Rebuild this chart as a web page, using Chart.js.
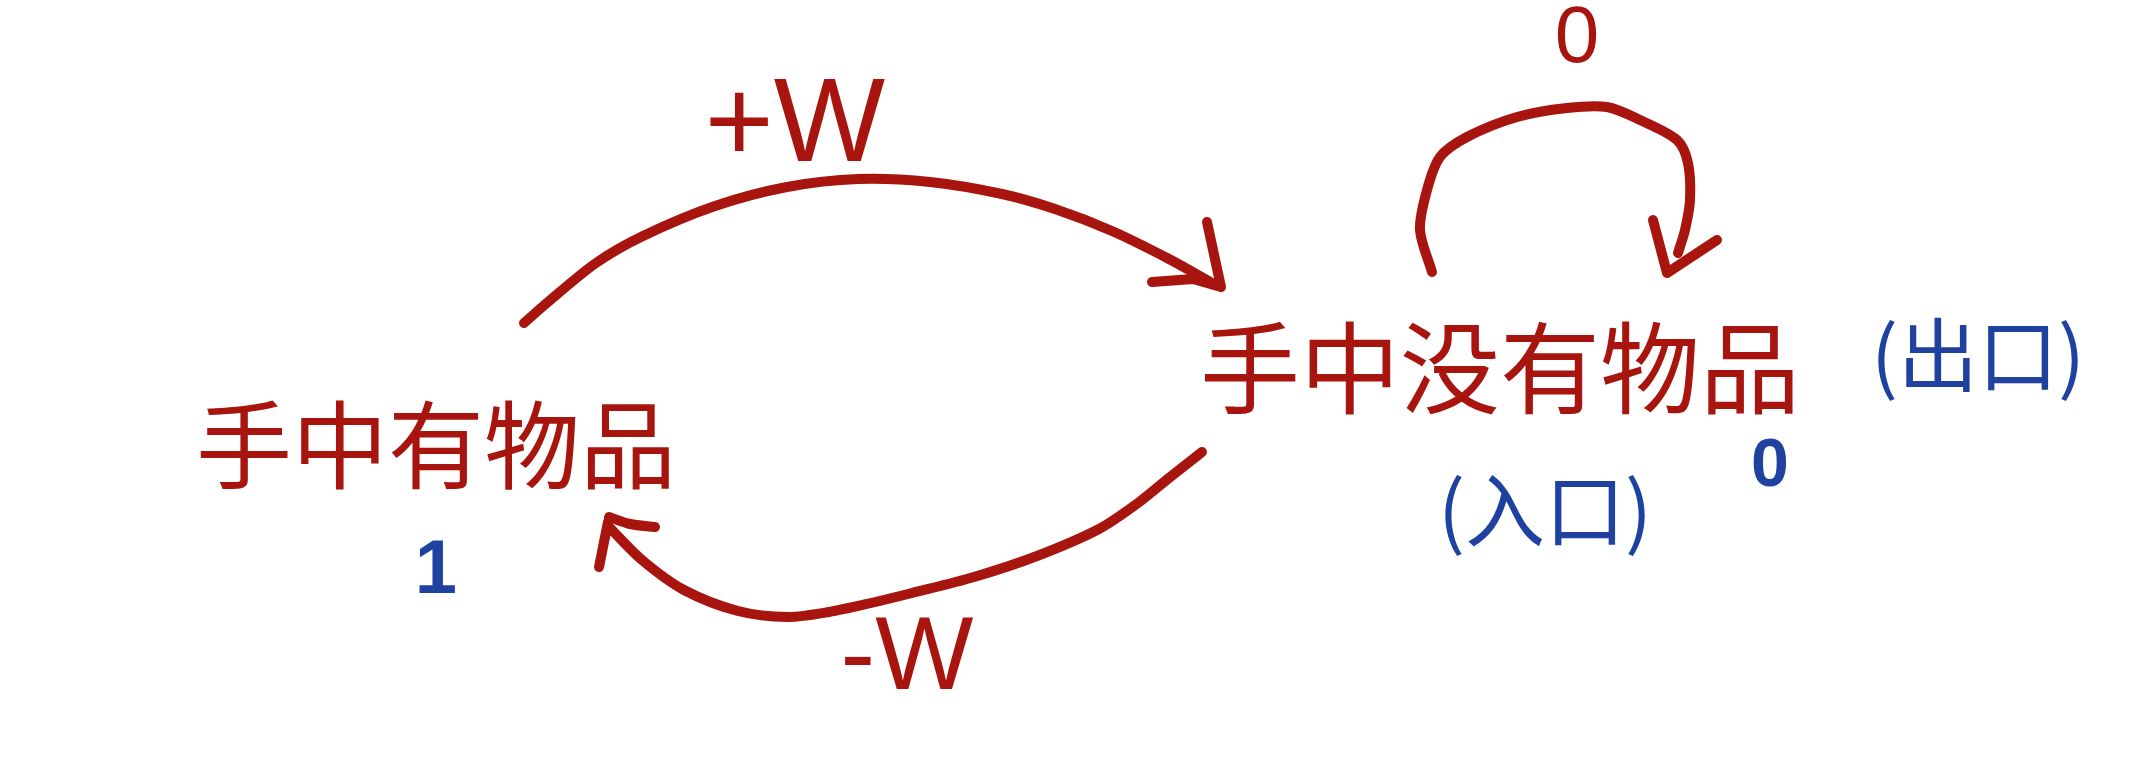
<!DOCTYPE html>
<html>
<head>
<meta charset="utf-8">
<script src="https://cdn.jsdelivr.net/npm/chart.js@4/dist/chart.umd.min.js"></script>
<style>
    html, body { margin: 0; padding: 0; background: #fff; }
    #wrap { width: 2138px; height: 762px; position: relative; }
</style>
</head>
<body>
<div id="wrap"><canvas id="diagram"></canvas></div>
<script>
// Curves of the state diagram, in picture coordinates (x right, y down)
const arcTop = [
    { x: 524, y: 323 }, { x: 548, y: 302 }, { x: 596, y: 263 }, { x: 643, y: 236 },
    { x: 715, y: 206 }, { x: 787, y: 187 }, { x: 858, y: 179 }, { x: 930, y: 182 },
    { x: 1002, y: 194 }, { x: 1055, y: 209 }, { x: 1112, y: 231 }, { x: 1169, y: 259 },
    { x: 1212, y: 283 }
];
const arcTopHead = [ { x: 1207, y: 222 }, { x: 1221, y: 287 }, { x: 1193, y: 279 }, { x: 1152, y: 282 } ];

const arcBottom = [
    { x: 1202, y: 452 }, { x: 1169, y: 478 }, { x: 1138, y: 503 }, { x: 1099, y: 529 },
    { x: 1037, y: 556 }, { x: 974, y: 577 }, { x: 912, y: 593 }, { x: 871, y: 603 },
    { x: 829, y: 612 }, { x: 788, y: 617 }, { x: 738, y: 611 }, { x: 684, y: 590 },
    { x: 642, y: 560 }, { x: 610, y: 528 }
];
const arcBottomHead = [ { x: 599, y: 567 }, { x: 608, y: 522 } ];
const arcBottomHead2 = [ { x: 609, y: 517 }, { x: 630, y: 524 }, { x: 655, y: 527 } ];

const loop = [
    { x: 1432, y: 272 }, { x: 1420, y: 230 }, { x: 1427, y: 190 }, { x: 1440, y: 157 },
    { x: 1467, y: 137 }, { x: 1517, y: 117 }, { x: 1567, y: 108 }, { x: 1607, y: 107 },
    { x: 1640, y: 120 }, { x: 1677, y: 140 }, { x: 1688, y: 163 }, { x: 1690, y: 200 },
    { x: 1685, y: 230 }, { x: 1678, y: 253 }
];
const loopHead = [ { x: 1653, y: 220 }, { x: 1667, y: 273 }, { x: 1717, y: 240 } ];

// Texts and where they sit
const redLabels = ['+W', '-W', '0', '手中有物品', '手中没有物品'];
const redAt = [ { x: 795, y: 128 }, { x: 907, y: 660 }, { x: 1577, y: 40 }, { x: 436, y: 445 }, { x: 1500, y: 368 } ];
const blueLabels = ['1', '0', '(出口)', '(入口)'];
const blueAt = [ { x: 436, y: 572 }, { x: 1770, y: 467 }, { x: 1978, y: 355 }, { x: 1545, y: 510 } ];

const RED = '#a8140e';
const BLUE = '#1f42a0';

function stroke(points, smooth) {
    return {
        data: points,
        showLine: true,
        borderColor: RED,
        borderWidth: 10,
        borderCapStyle: 'round',
        borderJoinStyle: 'round',
        pointRadius: 0,
        tension: smooth ? 0.3 : 0
    };
}

const labelFonts = {
    '+W': '400 118px "Liberation Sans", sans-serif',
    '-W': '400 104px "Liberation Sans", sans-serif',
    '0': '400 80px "Liberation Sans", sans-serif',
    '手中有物品': '400 96px "Noto Sans CJK SC", sans-serif',
    '手中没有物品': '400 100px "Noto Sans CJK SC", sans-serif',
    '1': '700 76px "Liberation Sans", sans-serif',
    '(出口)': '400 80px "Noto Sans CJK SC", sans-serif',
    '(入口)': '400 80px "Noto Sans CJK SC", sans-serif'
};

const textPlugin = {
    id: 'diagramText',
    afterDatasetsDraw(chart) {
        const ctx = chart.ctx;
        const sx = chart.scales.x, sy = chart.scales.y;
        ctx.save();
        ctx.textAlign = 'center';
        ctx.textBaseline = 'middle';
        function put(texts, at, color, blueSet) {
            texts.forEach(function(t, i) {
                let font = labelFonts[t];
                if (blueSet && t === '0') font = '700 68px "Liberation Sans", sans-serif';
                ctx.font = font;
                ctx.fillStyle = color;
                ctx.fillText(t, sx.getPixelForValue(at[i].x), sy.getPixelForValue(at[i].y));
            });
        }
        put(redLabels, redAt, RED, false);
        put(blueLabels, blueAt, BLUE, true);
        ctx.restore();
    }
};

new Chart(document.getElementById('diagram'), {
    type: 'scatter',
    data: {
        datasets: [
            stroke(arcTop, true), stroke(arcTopHead, false),
            stroke(arcBottom, true), stroke(arcBottomHead, false), stroke(arcBottomHead2, true),
            stroke(loop, true), stroke(loopHead, false)
        ]
    },
    options: {
        responsive: true,
        maintainAspectRatio: false,
        animation: false,
        layout: { padding: 0 },
        scales: {
            x: { type: 'linear', min: 0, max: 2138, display: false },
            y: { type: 'linear', min: 0, max: 762, reverse: true, display: false }
        },
        plugins: {
            legend: { display: false },
            tooltip: { enabled: false }
        }
    },
    plugins: [textPlugin]
});
</script>
</body>
</html>
